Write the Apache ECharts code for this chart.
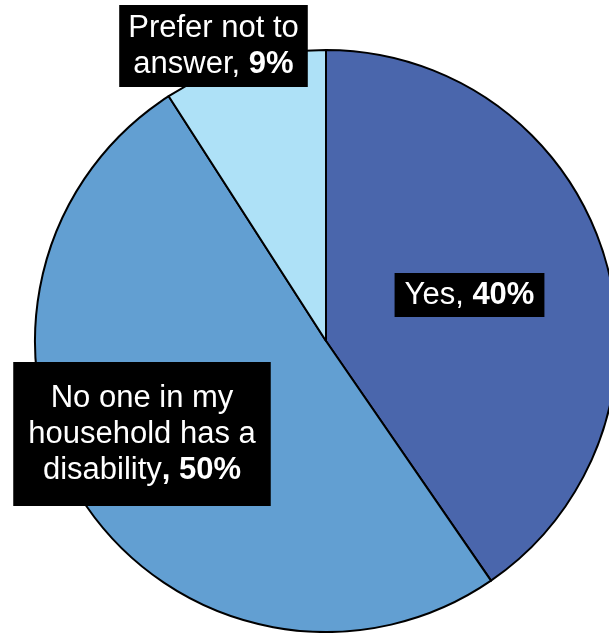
<!DOCTYPE html>
<html>
<head>
<meta charset="utf-8">
<script src="https://cdn.jsdelivr.net/npm/echarts@6/dist/echarts.min.js"></script>
<style>html,body{margin:0;padding:0;background:#fff;}#c{width:609px;height:633px;}</style>
</head>
<body>
<div id="c"></div>
<script>
const categories = ['Yes', 'No one in my household has a disability', 'Prefer not to answer'];
const labelLines = [['Yes, '], ['No one in my', 'household has a', 'disability'], ['Prefer not to', 'answer, ']];
const values = [40, 50, 9];
const colors = ['#4A66AC', '#629FD2', '#AEE1F7'];
const labelPos = [[469.5, 295], [142, 434], [213.5, 46]];
const labelPad = [[4, 10], [18, 15], [5, 9]];

const chart = echarts.init(document.getElementById('c'), null, {renderer: 'canvas'});
const data = categories.map((name, i) => {
  const lines = labelLines[i].slice();
  const last = lines.length - 1;
  if (i === 1) {
    lines[last] = lines[last] + '{b|, ' + values[i] + '%}';
  } else {
    lines[last] = lines[last] + '{b|' + values[i] + '%}';
  }
  return {
    name: name,
    value: values[i],
    itemStyle: {color: colors[i]},
    label: {formatter: lines.join('\n'), padding: labelPad[i]}
  };
});

chart.setOption({
  animation: false,
  series: [{
    type: 'pie',
    center: [326, 341],
    radius: 291,
    startAngle: 90,
    clockwise: true,
    itemStyle: {borderColor: '#000', borderWidth: 2},
    label: {
      show: true,
      position: 'inside',
      color: '#fff',
      backgroundColor: '#000',
      fontFamily: 'Liberation Sans, Arial, sans-serif',
      fontSize: 31,
      lineHeight: 36,
      align: 'center',
      rich: {
        b: {fontWeight: 'bold', fontSize: 31, lineHeight: 36, color: '#fff', fontFamily: 'Liberation Sans, Arial, sans-serif'}
      }
    },
    labelLine: {show: false},
    labelLayout: function (p) {
      const pos = labelPos[p.dataIndex];
      return {x: pos[0], y: pos[1], align: 'center', verticalAlign: 'middle'};
    },
    emphasis: {disabled: true},
    data: data
  }]
});
</script>
</body>
</html>
